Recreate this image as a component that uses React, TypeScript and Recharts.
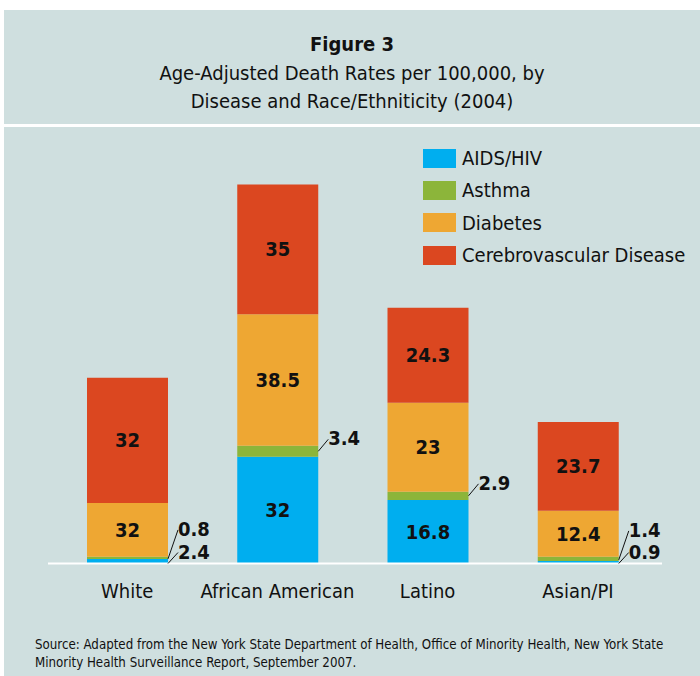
import { Bar, BarChart, LabelList, XAxis, YAxis } from "recharts";

const races = ["White", "African American", "Latino", "Asian/PI"];
const diseases = ["AIDS/HIV", "Asthma", "Diabetes", "Cerebrovascular Disease"];
const colors = ["#00aeef", "#8cb53a", "#eea733", "#db4720"];

// segment heights as they are drawn in the figure
const aidsHiv = [1.3, 31.4, 18.7, 0.7];
const asthma = [0.7, 3.2, 2.4, 1.3];
const diabetes = [15.8, 38.7, 26.2, 13.5];
const cerebro = [36.8, 38.2, 27.9, 26.1];

// rates printed on the figure
const aidsHivText = ["2.4", "32", "16.8", "0.9"];
const asthmaText = ["0.8", "3.4", "2.9", "1.4"];
const diabetesText = ["32", "38.5", "23", "12.4"];
const cerebroText = ["32", "35", "24.3", "23.7"];

const FONT = '"DejaVu Sans", sans-serif';
const BG = "#cfdfdf";
const INK = "#111";

const data = races.map((race, i) => ({
  race,
  aidsHiv: aidsHiv[i],
  asthma: asthma[i],
  diabetes: diabetes[i],
  cerebro: cerebro[i],
  aidsHivText: aidsHivText[i],
  asthmaText: asthmaText[i],
  diabetesText: diabetesText[i],
  cerebroText: cerebroText[i],
}));

const isSmall = (v: number) => v < 4;

const narrow = { fontFamily: FONT, fontStretch: "condensed" as const };

const labelStyle = {
  ...narrow,
  fontSize: 20,
  fontWeight: 700,
  fill: INK,
};

// inside label, or a leader line to the right when the segment is too thin
function makeLabel(series: "aidsHiv" | "asthma" | "other") {
  return (props: any) => {
    const { x, y, width, height, value, index } = props;
    const x0 = Number(x);
    const y0 = Number(y);
    const w = Number(width);
    const h = Number(height);
    const small =
      series === "aidsHiv"
        ? isSmall(aidsHiv[index])
        : series === "asthma"
        ? isSmall(asthma[index])
        : false;
    if (!small) {
      return (
        <text
          x={x0 + w / 2}
          y={y0 + h / 2}
          textAnchor="middle"
          dominantBaseline="central"
          style={labelStyle}
        >
          {value}
        </text>
      );
    }
    let startY: number;
    let cy: number;
    if (series === "aidsHiv") {
      startY = y0 + h;
      cy = y0 + h - 12;
    } else if (isSmall(aidsHiv[index])) {
      startY = y0 + h / 2 + 1;
      cy = y0 + h / 2 - 29;
    } else {
      startY = y0 + h / 2;
      cy = y0 + h / 2 - 13;
    }
    return (
      <g>
        <line
          x1={x0 + w}
          y1={startY}
          x2={x0 + w + 10}
          y2={cy + 1}
          stroke={INK}
          strokeWidth={1}
        />
        <text
          x={x0 + w + 10}
          y={cy}
          textAnchor="start"
          dominantBaseline="central"
          style={labelStyle}
        >
          {value}
        </text>
      </g>
    );
  };
}

export default function App() {
  return (
    <div
      style={{
        position: "absolute",
        left: 0,
        top: 0,
        width: 700,
        height: 676,
        background: "#fff",
        overflow: "hidden",
      }}
    >
      <div
        style={{
          position: "absolute",
          left: 4,
          top: 10,
          width: 696,
          height: 666,
          background: BG,
        }}
      />
      <div
        style={{
          position: "absolute",
          left: 4,
          top: 124,
          width: 696,
          height: 3,
          background: "#fff",
        }}
      />
      <div
        style={{
          position: "absolute",
          left: 4,
          top: 30,
          width: 696,
          textAlign: "center",
          ...narrow,
          fontSize: 20,
          lineHeight: "28.5px",
          color: INK,
        }}
      >
        <div style={{ fontWeight: 700 }}>Figure 3</div>
        <div>Age-Adjusted Death Rates per 100,000, by</div>
        <div>Disease and Race/Ethniticity (2004)</div>
      </div>

      <div
        style={{
          position: "absolute",
          left: 423,
          top: 142,
          ...narrow,
          fontSize: 20,
          color: INK,
          whiteSpace: "nowrap",
        }}
      >
        {diseases.map((d, i) => (
          <div
            key={d}
            style={{ display: "flex", alignItems: "center", height: 32.3 }}
          >
            <span
              style={{
                display: "inline-block",
                width: 33,
                height: 19,
                background: colors[i],
                marginRight: 6,
              }}
            />
            <span>{d}</span>
          </div>
        ))}
      </div>

      <div style={{ position: "absolute", left: 0, top: 0 }}>
        <BarChart
          width={700}
          height={676}
          data={data}
          margin={{ top: 155.5, right: 38, bottom: 72.5, left: 48 }}
          barSize={81}
        >
          <YAxis hide domain={[0, 120]} />
          <XAxis
            dataKey="race"
            height={40}
            padding={{ left: 4, right: 9 }}
            axisLine={{ stroke: "#fff", strokeWidth: 2 }}
            tickLine={false}
            tickSize={6}
            tickMargin={14}
            tick={{ ...narrow, fontSize: 20, fill: INK }}
            interval={0}
          />
          <Bar dataKey="aidsHiv" stackId="a" fill={colors[0]} isAnimationActive={false}>
            <LabelList dataKey="aidsHivText" content={makeLabel("aidsHiv")} />
          </Bar>
          <Bar dataKey="asthma" stackId="a" fill={colors[1]} isAnimationActive={false}>
            <LabelList dataKey="asthmaText" content={makeLabel("asthma")} />
          </Bar>
          <Bar dataKey="diabetes" stackId="a" fill={colors[2]} isAnimationActive={false}>
            <LabelList dataKey="diabetesText" content={makeLabel("other")} />
          </Bar>
          <Bar dataKey="cerebro" stackId="a" fill={colors[3]} isAnimationActive={false}>
            <LabelList dataKey="cerebroText" content={makeLabel("other")} />
          </Bar>
        </BarChart>
      </div>

      <div
        style={{
          position: "absolute",
          left: 35,
          top: 636,
          ...narrow,
          fontSize: 13.2,
          lineHeight: "18px",
          color: INK,
          whiteSpace: "nowrap",
        }}
      >
        Source: Adapted from the New York State Department of Health, Office of Minority Health, New York State
        <br />
        Minority Health Surveillance Report, September 2007.
      </div>
    </div>
  );
}
